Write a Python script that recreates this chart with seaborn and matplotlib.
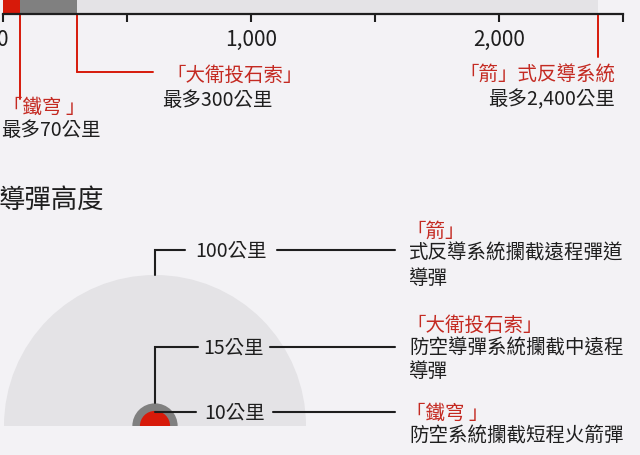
import matplotlib
matplotlib.use("Agg")
import matplotlib.pyplot as plt
import matplotlib.transforms as mtransforms
from matplotlib.patches import Wedge
import seaborn as sns

# ===== Data =====
systems = ["「箭」式反導系統", "「大衛投石索」", "「鐵穹 」"]
range_km = [2400, 300, 70]
range_labels = ["最多2,400公里", "最多300公里", "最多70公里"]
altitude_km = [100, 15, 10]
altitude_labels = ["100公里", "15公里", "10公里"]
altitude_names = ["「箭」", "「大衛投石索」", "「鐵穹 」"]
altitude_desc = [["式反導系統攔截遠程彈道", "導彈"],
                 ["防空導彈系統攔截中遠程", "導彈"],
                 ["防空系統攔截短程火箭彈"]]
xticks = [0, 500, 1000, 1500, 2000, 2500]
xtick_labels = ["0", "", "1,000", "", "2,000", ""]

BG = "#f3f2f5"
RED = "#d71a0a"
TXT_RED = "#c42a22"
DARK = "#1e1e1e"
shades = ["#e4e3e6", "#808080", RED]
FS = 14
FW = "medium"

sns.set_theme(style="white")
plt.rcParams["font.family"] = ["Noto Sans CJK TC", "DejaVu Sans"]

W, H = 640, 456
fig = plt.figure(figsize=(W / 100, H / 100), dpi=100)
fig.patch.set_facecolor(BG)

# pixel transform, origin top-left
px = mtransforms.Affine2D().scale(1, -1).translate(0, H)


def pbox(x0, y0, x1, y1):
    return [x0 / W, 1 - y1 / H, (x1 - x0) / W, (y1 - y0) / H]


def ftext(x, y, s, color=DARK, size=FS, **kw):
    fig.text(x / W, 1 - y / H, s, color=color, fontsize=size, fontweight=FW, va="center", **kw)


# ===== Range bar =====
ax1 = fig.add_axes(pbox(3, -2, 623, 15))
ax1.set_facecolor(BG)
for km, c in zip(range_km, shades):
    sns.barplot(x=[km], y=["r"], color=c, width=1.0, ax=ax1,
                orient="h", saturation=1, linewidth=0)
ax1.set_xlim(0, 2500)
ax1.set_ylim(0.5, -0.5)
ax1.set_yticks([])
ax1.set_ylabel("")
ax1.set_xlabel("")
for s in ["top", "left", "right"]:
    ax1.spines[s].set_visible(False)
ax1.spines["bottom"].set_color(DARK)
ax1.spines["bottom"].set_linewidth(1.6)
ax1.set_xticks(xticks)
ax1.set_xticklabels(xtick_labels, fontsize=15, color=DARK, fontweight=FW)
ax1.tick_params(axis="x", direction="out", length=6, width=1.5, color=DARK, pad=4,
                bottom=True)

tr1 = mtransforms.blended_transform_factory(ax1.transData, px)

# Arrow (2400)
ax1.plot([range_km[0]] * 2, [16, 58], color=RED, lw=1.4, transform=tr1, clip_on=False)
ftext(615, 75, systems[0], color=TXT_RED, ha="right")
ftext(615, 100, range_labels[0], ha="right")

# David's Sling (300)
ax1.plot([range_km[1]] * 2, [16, 73], color=RED, lw=1.4, transform=tr1, clip_on=False)
x300 = ax1.transData.transform((range_km[1], 0))[0]
fig.add_artist(plt.Line2D([x300 / W, 153 / W], [1 - 73 / H] * 2, color=RED, lw=1.4))
ftext(166, 75, systems[1], color=TXT_RED, ha="left")
ftext(162, 100, range_labels[1], ha="left")

# Iron Dome (70)
ax1.plot([range_km[2]] * 2, [16, 100], color=RED, lw=1.4, transform=tr1, clip_on=False)
ftext(3, 107, systems[2], color=TXT_RED, ha="left")
ftext(1, 130, range_labels[2], ha="left")

# ===== Altitude =====
ftext(-1, 200, "導彈高度", size=19, ha="left")

scale = 1.51  # px per km
cx, cy = 155, 427
ax2 = fig.add_axes(pbox(0, 170, 640, 456))
ax2.set_facecolor("none")
ax2.set_xlim(-cx / scale, (W - cx) / scale)
ax2.set_ylim(-(456 - cy) / scale, (cy - 170) / scale)
ax2.axis("off")

for alt, c in zip(altitude_km, shades):
    ax2.add_patch(Wedge((0, 0), alt, 0, 180, facecolor=c, edgecolor="none"))

tr2 = mtransforms.blended_transform_factory(ax2.transData, px)

label_rows = [251, 348, 413]
line_end = [185, 198, 196]
line_start = [277, 270, 273]
name_rows = [231, 325, 413]
desc_rows = [[253, 278], [348, 372], [435]]

for i, (alt, lab, y) in enumerate(zip(altitude_km, altitude_labels, label_rows)):
    x_end = (line_end[i] - cx) / scale
    if i < 2:
        top_px = cy - alt * scale
        ax2.plot([0, 0, x_end], [top_px, y, y], color=DARK, lw=1.5,
                 transform=tr2, clip_on=False, solid_joinstyle="miter")
    else:
        ax2.plot([0, x_end], [y, y], color=DARK, lw=1.5, transform=tr2, clip_on=False)
    ftext((line_end[i] + line_start[i]) / 2, y, lab, ha="center")
    fig.add_artist(plt.Line2D([line_start[i] / W, 395 / W], [1 - y / H] * 2, color=DARK, lw=1.5))

for name, ny, desc, rows in zip(altitude_names, name_rows, altitude_desc, desc_rows):
    ftext(406, ny, name, color=TXT_RED, ha="left")
    for line, ry in zip(desc, rows):
        ftext(409, ry, line, ha="left")

fig.savefig("out.png", dpi=100, facecolor=BG)
